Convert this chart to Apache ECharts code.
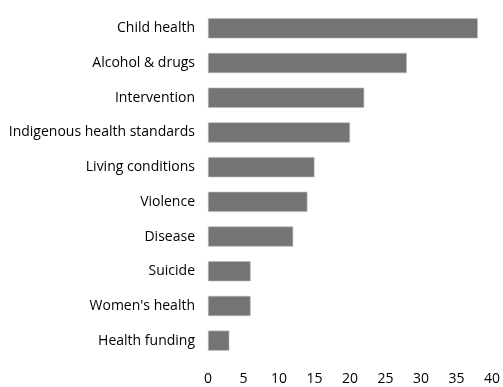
<!DOCTYPE html>
<html>
<head>
<meta charset="utf-8">
<script src="https://cdn.jsdelivr.net/npm/echarts@6/dist/echarts.min.js"></script>
<style>
  html, body { margin: 0; padding: 0; background: #fff; }
  #chart { width: 503px; height: 387px; }
</style>
</head>
<body>
<div id="chart"></div>
<script>
// Topics, top to bottom
const categories = [
  'Child health',
  'Alcohol & drugs',
  'Intervention',
  'Indigenous health standards',
  'Living conditions',
  'Violence',
  'Disease',
  'Suicide',
  "Women's health",
  'Health funding'
];
const counts = [38, 28, 22, 20, 15, 14, 12, 6, 6, 3];
const xTicks = [0, 5, 10, 15, 20, 25, 30, 35, 40];

const chart = echarts.init(document.getElementById('chart'));
const font = '"Open Sans", "Liberation Sans", sans-serif';

chart.setOption({
  animation: false,
  grid: { left: 208, right: 11, top: 11, bottom: 29, containLabel: false },
  xAxis: {
    type: 'value',
    min: xTicks[0],
    max: xTicks[xTicks.length - 1],
    interval: xTicks[1] - xTicks[0],
    axisLine: { show: false },
    axisTick: { show: false },
    splitLine: { show: false },
    axisLabel: { color: '#000', fontFamily: font, fontSize: 14, margin: 14 }
  },
  yAxis: {
    type: 'category',
    data: categories,
    inverse: true,
    axisLine: { show: false },
    axisTick: { show: false },
    axisLabel: { color: '#000', fontFamily: font, fontSize: 14, margin: 13 }
  },
  series: [{
    type: 'bar',
    data: counts,
    barCategoryGap: '42%',
    itemStyle: { color: '#747474', borderColor: '#b8b8b8', borderWidth: 0.6 }
  }]
});
</script>
</body>
</html>
